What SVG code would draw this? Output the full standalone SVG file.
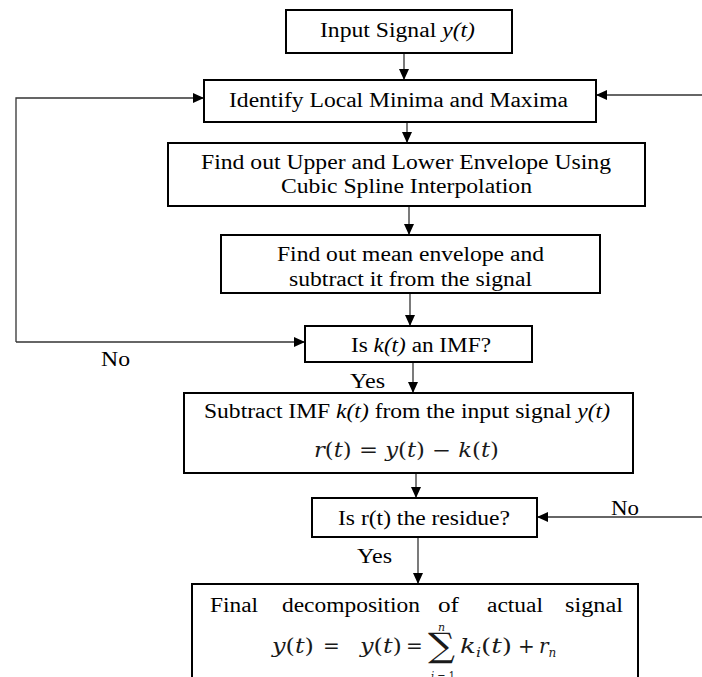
<svg xmlns="http://www.w3.org/2000/svg" width="702" height="677" viewBox="0 0 702 677">
<style>
.box{fill:#fff;stroke:#000;stroke-width:2}
.t{font-family:"Liberation Serif","Times New Roman",serif;font-size:20px;fill:#000}
.m{font-family:"DejaVu Serif","Liberation Serif",serif;font-size:20px;fill:#1a1a1a}
.i{font-style:italic}
.c{fill:none;stroke:#333;stroke-width:1.3}
</style>
<defs>
<marker id="ah" markerWidth="12" markerHeight="12" refX="11" refY="5" orient="auto" markerUnits="userSpaceOnUse" viewBox="0 0 12 10">
<path d="M0,0 L11,5 L0,10 Z" fill="#000"/>
</marker>
</defs>
<g id="connectors">
<line class="c" x1="404" y1="53" x2="404" y2="80" marker-end="url(#ah)"/>
<line class="c" x1="407" y1="122" x2="407" y2="143" marker-end="url(#ah)"/>
<line class="c" x1="409" y1="206" x2="409" y2="235" marker-end="url(#ah)"/>
<line class="c" x1="410" y1="293" x2="410" y2="326" marker-end="url(#ah)"/>
<line class="c" x1="413" y1="362" x2="413" y2="393" marker-end="url(#ah)"/>
<line class="c" x1="416" y1="473" x2="416" y2="498" marker-end="url(#ah)"/>
<line class="c" x1="418" y1="537" x2="418" y2="584" marker-end="url(#ah)"/>
<polyline class="c" points="16,342 16,98 204,98" marker-end="url(#ah)"/>
<line class="c" x1="16" y1="342" x2="305" y2="342" marker-end="url(#ah)"/>
<line class="c" x1="702" y1="95" x2="596" y2="95" marker-end="url(#ah)"/>
<line class="c" x1="702" y1="517" x2="537" y2="517" marker-end="url(#ah)"/>
<text class="t" x="101" y="366" textLength="29" lengthAdjust="spacingAndGlyphs">No</text>
<text class="t" x="350" y="388" textLength="35" lengthAdjust="spacingAndGlyphs">Yes</text>
<text class="t" x="611" y="515" textLength="28" lengthAdjust="spacingAndGlyphs">No</text>
<text class="t" x="357" y="563" textLength="35" lengthAdjust="spacingAndGlyphs">Yes</text>
</g>
<g id="input">
<rect class="box" x="286" y="10" width="226" height="43"/>
<text class="t" x="320" y="37" textLength="155" lengthAdjust="spacingAndGlyphs">Input Signal <tspan class="i">y(t)</tspan></text>
</g>
<g id="identify">
<rect class="box" x="204" y="80" width="392" height="42"/>
<text class="t" x="229" y="107" textLength="339" lengthAdjust="spacingAndGlyphs">Identify Local Minima and Maxima</text>
</g>
<g id="envelope">
<rect class="box" x="168" y="143" width="477" height="63"/>
<text class="t" x="201" y="169" textLength="410" lengthAdjust="spacingAndGlyphs">Find out Upper and Lower Envelope Using</text>
<text class="t" x="281" y="193" textLength="251" lengthAdjust="spacingAndGlyphs">Cubic Spline Interpolation</text>
</g>
<g id="mean">
<rect class="box" x="221" y="235" width="379" height="58"/>
<text class="t" x="277" y="261" textLength="267" lengthAdjust="spacingAndGlyphs">Find out mean envelope and</text>
<text class="t" x="289" y="286" textLength="243" lengthAdjust="spacingAndGlyphs">subtract it from the signal</text>
</g>
<g id="imf">
<rect class="box" x="305" y="326" width="227" height="36"/>
<text class="t" x="351" y="352" textLength="140" lengthAdjust="spacingAndGlyphs">Is <tspan class="i">k(t)</tspan> an IMF?</text>
</g>
<g id="subtract">
<rect class="box" x="184" y="393" width="449" height="80"/>
<text class="t" x="204" y="418" textLength="406" lengthAdjust="spacingAndGlyphs">Subtract IMF <tspan class="i">k(t)</tspan> from the input signal <tspan class="i">y(t)</tspan></text>
<text class="m" x="314" y="457" textLength="185" lengthAdjust="spacingAndGlyphs"><tspan class="i">r</tspan>(<tspan class="i">t</tspan>) = <tspan class="i">y</tspan>(<tspan class="i">t</tspan>) − <tspan class="i">k</tspan>(<tspan class="i">t</tspan>)</text>
</g>
<g id="residue">
<rect class="box" x="312" y="498" width="225" height="39"/>
<text class="t" x="338" y="525" textLength="172" lengthAdjust="spacingAndGlyphs">Is r(t) the residue?</text>
</g>
<g id="final">
<rect class="box" x="192" y="584" width="446" height="102"/>
<text class="t" x="210" y="612" textLength="48" lengthAdjust="spacingAndGlyphs">Final</text>
<text class="t" x="282" y="612" textLength="138" lengthAdjust="spacingAndGlyphs">decomposition</text>
<text class="t" x="438" y="612" textLength="21" lengthAdjust="spacingAndGlyphs">of</text>
<text class="t" x="487" y="612" textLength="56" lengthAdjust="spacingAndGlyphs">actual</text>
<text class="t" x="565" y="612" textLength="58" lengthAdjust="spacingAndGlyphs">signal</text>
<text class="m" x="272" y="653" textLength="42" lengthAdjust="spacingAndGlyphs"><tspan class="i">y</tspan>(<tspan class="i">t</tspan>)</text>
<text class="m" x="323" y="653">=</text>
<text class="m" x="360" y="653" textLength="42" lengthAdjust="spacingAndGlyphs"><tspan class="i">y</tspan>(<tspan class="i">t</tspan>)</text>
<text class="m" x="406" y="653">=</text>
<text class="m" x="428" y="657" textLength="27" lengthAdjust="spacingAndGlyphs" style="font-size:34px">∑</text>
<text class="m i" x="438" y="631" style="font-size:11px">n</text>
<text class="m" x="431" y="681" textLength="24" lengthAdjust="spacingAndGlyphs" style="font-size:12px"><tspan class="i">i</tspan> = 1</text>
<text class="m" x="460" y="653" textLength="52" lengthAdjust="spacingAndGlyphs"><tspan class="i">k</tspan><tspan class="i" style="font-size:12px" dy="4">i</tspan><tspan dy="-4">(</tspan><tspan class="i">t</tspan>)</text>
<text class="m" x="518" y="653">+</text>
<text class="m" x="539" y="653"><tspan class="i">r</tspan><tspan class="i" style="font-size:12px" dy="4">n</tspan></text>
</g>
</svg>
